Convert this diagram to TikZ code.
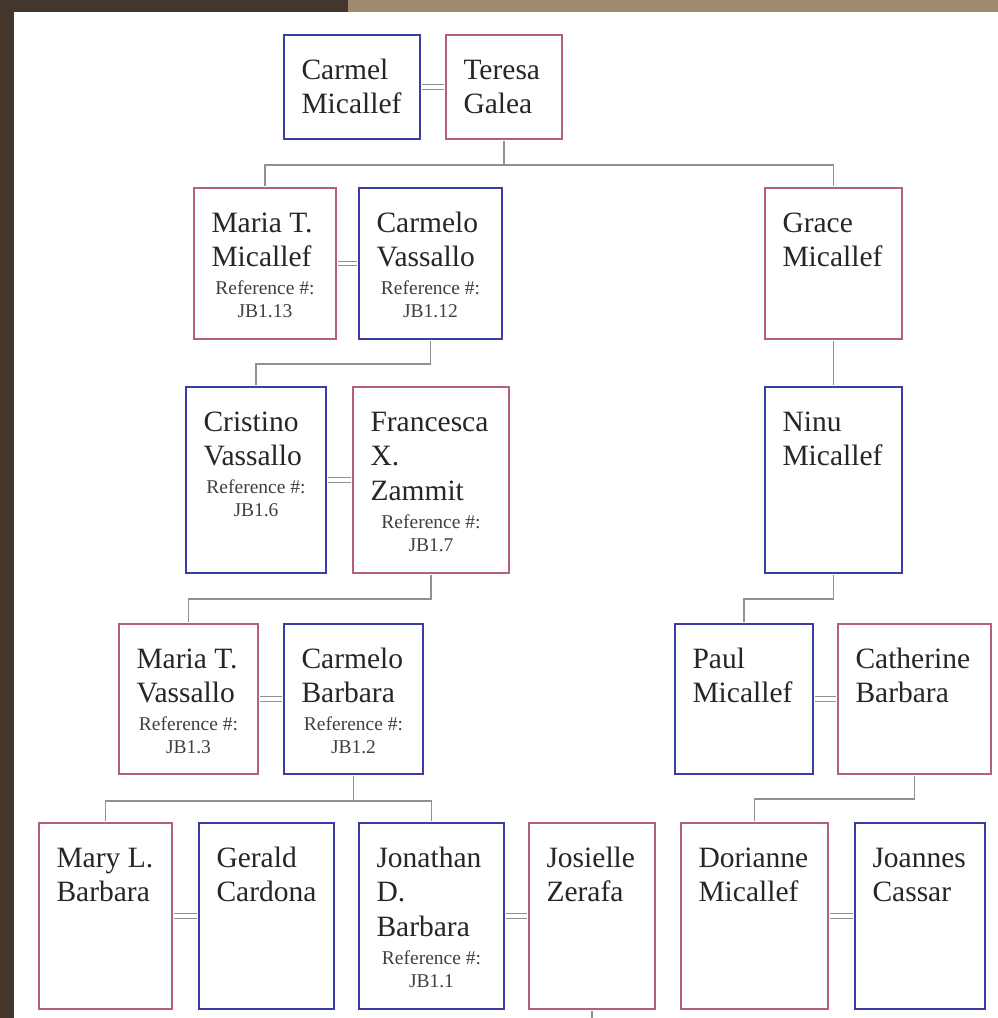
\documentclass[tikz,border=0pt]{standalone}
\usepackage{fontspec}
\setmainfont{Liberation Serif}
\usetikzlibrary{calc,positioning}

\definecolor{manblue}{RGB}{60,60,165}
\definecolor{womanpink}{RGB}{180,95,130}
\definecolor{kingray}{RGB}{145,145,145}
\definecolor{framebrown}{RGB}{67,54,45}
\definecolor{framestrip}{RGB}{158,138,110}

\newcommand{\namefont}{\fontsize{29.5}{34.5}\selectfont}
\newcommand{\reffont}{\fontsize{19.5}{23}\selectfont}
% card text: width, height, names
\newcommand{\who}[3]{\parbox[c][#2pt][t]{#1pt}{\vspace*{20pt}\namefont\raggedright\strut#3\par}}
% card text with a reference number below the names
\newcommand{\whoref}[4]{\parbox[c][#2pt][t]{#1pt}{\vspace*{20pt}\namefont\raggedright\strut#3\par
  \vspace{5pt}\reffont\color{black!75}\centering Reference \#:\\#4\par}}

\begin{document}
\begin{tikzpicture}[x=1pt, y=-1pt, semithick, text=black!85]
		\tikzstyle{person}=[inner xsep=17.5pt, inner ysep=0pt, line width=2pt, anchor=north west]
		\tikzstyle{male}=[person, draw=manblue]
		\tikzstyle{female}=[person, draw=womanpink]
		\tikzstyle{kin}=[draw=kingray, line width=1.6pt, shorten <=1pt, shorten >=1pt]
		\tikzstyle{wed}=[draw=kingray, line width=1.1pt, double distance=3.4pt, shorten <=1pt, shorten >=1pt]
		
		\useasboundingbox (0,0) rectangle (998,1018);
		\fill [framebrown] (0,0) rectangle (998,1018);
		\fill [framestrip] (348,0) rectangle (998,12);
		\fill [white] (14,12) rectangle (998,1018);
		
		\node [male] (1) at (283,34) {\who{101}{104}{Carmel\\Micallef}};
		\node [female] (2) at ($(1.north east)+(24,0)$) {\who{81}{104}{Teresa\\Galea}};
		
		\node [female] (3) at (193,187) {\whoref{107}{151}{Maria T.\\Micallef}{JB1.13}};
		\node [male] (4) at ($(3.north east)+(21,0)$) {\whoref{108}{151}{Carmelo\\Vassallo}{JB1.12}};
		\node [female] (5) at (764,187) {\who{102}{151}{Grace\\Micallef}};
		
		\node [male] (6) at (185,386) {\whoref{105}{186}{Cristino\\Vassallo}{JB1.6}};
		\node [female] (7) at ($(6.north east)+(25,0)$) {\whoref{121}{186}{Francesca\\X.\\Zammit}{JB1.7}};
		\node [male] (8) at (764,386) {\who{102}{186}{Ninu\\Micallef}};
		
		\node [female] (9) at (118,623) {\whoref{104}{150}{Maria T.\\Vassallo}{JB1.3}};
		\node [male] (10) at ($(9.north east)+(24,0)$) {\whoref{104}{150}{Carmelo\\Barbara}{JB1.2}};
		\node [male] (11) at (674,623) {\who{103}{150}{Paul\\Micallef}};
		\node [female] (12) at ($(11.north east)+(23,0)$) {\who{118}{150}{Catherine\\Barbara}};
		
		\node [female] (13) at (38,822) {\who{98}{186}{Mary L.\\Barbara}};
		\node [male] (14) at ($(13.north east)+(25,0)$) {\who{100}{186}{Gerald\\Cardona}};
		\node [male] (15) at (358,822) {\whoref{110}{186}{Jonathan\\D.\\Barbara}{JB1.1}};
		\node [female] (16) at ($(15.north east)+(23,0)$) {\who{91}{186}{Josielle\\Zerafa}};
		\node [female] (17) at (680,822) {\who{112}{186}{Dorianne\\Micallef}};
		\node [male] (18) at ($(17.north east)+(25,0)$) {\who{95}{186}{Joannes\\Cassar}};
		
		\coordinate (out) at ($(16.south)+(0,10)$);
		
		% couples
		\draw [wed] (1) to (2); \draw [wed] (3) to (4); \draw [wed] (6) to (7);
		\draw [wed] (9) to (10); \draw [wed] (11) to (12); \draw [wed] (13) to (14);
		\draw [wed] (15) to (16); \draw [wed] (17) to (18);
		
		% children
		\draw [kin] (2.south) -- ++(0,25) -| (3.north);
		\draw [kin] (2.south) -- ++(0,25) -| (5.north);
		\draw [kin] (4.south) -- ++(0,24) -| (6.north);
		\draw [kin] (7.south) -- ++(0,25) -| (9.north);
		\draw [kin] (10.south) -- ++(0,26) -| (13.north);
		\draw [kin] (10.south) -- ++(0,26) -| (15.north);
		\draw [kin] (5) to (8);
		\draw [kin] (8.south) -- ++(0,25) -| (11.north);
		\draw [kin] (12.south) -- ++(0,24) -| (17.north);
		\draw [kin] (16.south) -- (out);
	\end{tikzpicture}
\end{document}
